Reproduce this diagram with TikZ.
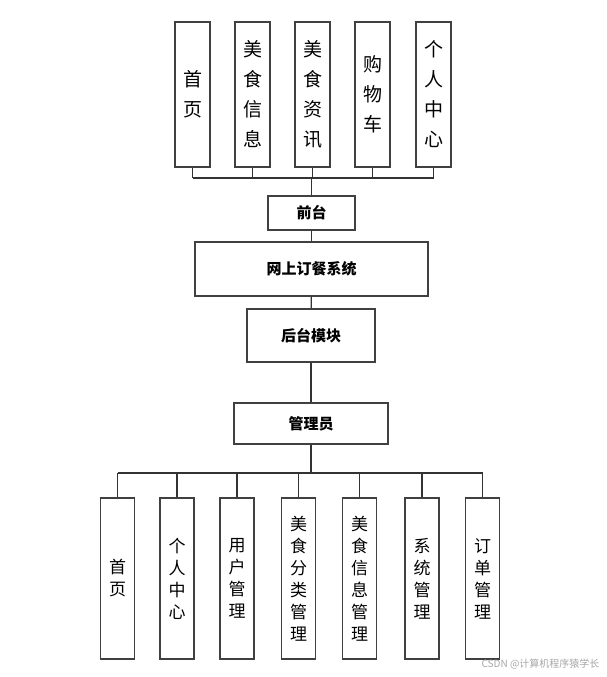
\documentclass[tikz,border=0pt]{standalone}
\usepackage{fontspec}
\newfontfamily\cjk{Noto Sans CJK SC}
\begin{document}
\begin{tikzpicture}[x=1pt,y=-1pt,
  box/.style={draw=black!75,line width=1.2pt,fill=white,inner sep=0pt,font=\cjk},
  vtop/.style={box,font=\cjk\fontsize{19}{30}\selectfont,align=center},
  vbot/.style={box,font=\cjk\fontsize{17}{22}\selectfont,align=center},
  hb/.style={box,font=\cjk\bfseries\fontsize{15}{18}\selectfont},
  ln/.style={draw=black!80,line width=1.2pt}]
\useasboundingbox (0,0) rectangle (607,677);
\def\tv#1#2#3#4{\node[vtop,minimum width=35pt,minimum height=145pt] (#1) at (#2,94.5) {#4};}
\tv{t1}{192.5}{}{首\\页}
\tv{t2}{252.5}{}{美\\食\\信\\息}
\tv{t3}{312.5}{}{美\\食\\资\\讯}
\tv{t4}{372.5}{}{购\\物\\车}
\tv{t5}{433.5}{}{个\\人\\中\\心}
\node[hb,minimum width=87pt,minimum height=34pt] (qt) at (311.5,213) {前台};
\node[hb,minimum width=233pt,minimum height=54pt] (sys) at (311.5,269) {网上订餐系统};
\node[hb,minimum width=128pt,minimum height=53pt] (ht) at (311,335.5) {后台模块};
\node[hb,minimum width=154pt,minimum height=41pt] (gly) at (311,423.5) {管理员};
\def\bv#1#2#3{\node[vbot,minimum width=34pt,minimum height=161pt] (#1) at (#2,578.5) {#3};}
\bv{b1}{117.5}{首\\页}
\bv{b2}{177}{个\\人\\中\\心}
\bv{b3}{237}{用\\户\\管\\理}
\bv{b4}{298.5}{美\\食\\分\\类\\管\\理}
\bv{b5}{359.5}{美\\食\\信\\息\\管\\理}
\bv{b6}{422}{系\\统\\管\\理}
\bv{b7}{482.5}{订\\单\\管\\理}
\coordinate (bus1) at (0,178);
\foreach \n in {t1,t2,t3,t4,t5} \draw[ln] (\n.south) -- (\n.south |- bus1);
\draw[ln] (t1.south |- bus1) -- (t5.south |- bus1);
\draw[ln] (qt.north) -- (qt.north |- bus1);
\draw[ln] (qt) -- (sys);
\draw[ln] (sys) -- (ht);
\draw[ln] (ht) -- (gly);
\coordinate (bus2) at (0,473);
\draw[ln] (gly.south) -- (gly.south |- bus2);
\draw[ln] (b1.north |- bus2) -- (b7.north |- bus2);
\foreach \n in {b1,b2,b3,b4,b5,b6,b7} \draw[ln] (\n.north) -- (\n.north |- bus2);
\node[font=\cjk\fontsize{10}{12}\selectfont,text=black!35,anchor=east] (wm) at (603,664) {CSDN @计算机程序猿学长};
\end{tikzpicture}
\end{document}
